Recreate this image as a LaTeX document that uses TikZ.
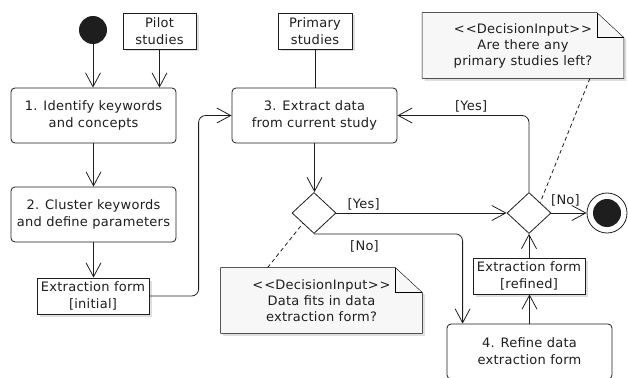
\documentclass[tikz,border=0pt]{standalone}
\usepackage{fontspec}
\setmainfont{DejaVu Sans}[LetterSpace=2]
\usepackage{tikz}
\usetikzlibrary{shapes.geometric, arrows.meta, calc, shadows, backgrounds}
\definecolor{notefill}{RGB}{247,247,247}
\definecolor{inkgray}{RGB}{30,30,30}
\newcommand{\stereo}[1]{<\kern1pt<#1>\kern1pt>}

\begin{document}
\begin{tikzpicture}[x=1pt, y=-1pt, color=inkgray, line width=0.8pt,
  every node/.style={font=\fontsize{13}{17}\selectfont},
  action/.style={rectangle, draw, fill=white, rounded corners=4pt, align=center,
                 minimum width=165pt, minimum height=55pt, inner sep=2pt},
  object/.style={rectangle, draw, fill=white, align=center, inner xsep=3pt, inner ysep=2pt,
                 minimum height=36pt, drop shadow={shadow xshift=2.5pt, shadow yshift=-2.5pt, opacity=0.25}},
  decision/.style={diamond, draw, fill=white, minimum width=44pt, minimum height=41pt, inner sep=0pt},
  notebox/.style={rectangle, align=center, minimum width=201pt, minimum height=65pt, inner sep=0pt,
                  font=\fontsize{13}{16}\selectfont},
  guard/.style={font=\fontsize{13}{14}\selectfont, inner sep=2pt},
  dot/.style={circle, fill=inkgray, minimum size=28pt, inner sep=0pt},
  arr/.style={-{Straight Barb[length=14pt, width=15pt]}},
  link/.style={dash pattern=on 4pt off 3pt},
]
  \useasboundingbox (0,0) rectangle (628,377);

  % nodes
  \node[dot] (start) at (93,30) {};
  \node[object, minimum width=73pt] (pilot) at (159.5,31) {Pilot\\studies};
  \node[action] (identify) at (93.5,115.5) {1. Identify keywords\\and concepts};
  \node[action] (cluster) at (93.5,214.5) {2. Cluster keywords\\and define parameters};
  \node[object, minimum width=112pt] (initial) at (93,296) {Extraction form\\{[initial]}};
  \node[object, minimum width=74pt] (primary) at (315,31) {Primary\\studies};
  \node[action] (extract) at (314.5,115.5) {3. Extract data\\from current study};
  \node[decision] (fits) at (314,213) {};
  \node[decision] (left) at (529,213) {};
  \node[circle, draw, minimum size=40pt, inner sep=0pt] (final) at (607,213) {};
  \node[dot] (finaldot) at (final) {};
  \node[object, minimum width=112pt] (refined) at (529,276) {Extraction form\\{[refined]}};
  \node[action] (refine) at (529.5,351.5) {4. Refine data\\extraction form};
  \node[notebox] (fitsnote) at (321.5,300.5)
    {\stereo{DecisionInput}\\Data fits in data\\extraction form?};
  \node[notebox] (leftnote) at (523,45.5)
    {\stereo{DecisionInput}\\Are there any\\primary studies left?};

  % notes with folded corner
  \begin{scope}[on background layer]
    \foreach \n in {fitsnote, leftnote} {
      \filldraw[fill=notefill, drop shadow={shadow xshift=2.5pt, shadow yshift=-2.5pt, opacity=0.25}]
        (\n.north west) -- ($(\n.north east)+(-27pt,0pt)$) -- ($(\n.north east)+(0pt,-25pt)$)
        -- (\n.south east) -- (\n.south west) -- cycle;
      \draw ($(\n.north east)+(-27pt,0pt)$) |- ($(\n.north east)+(0pt,-25pt)$);
    }
  \end{scope}

  % flows
  \draw[arr] (start) -- (start |- identify.north);
  \draw[arr] (pilot) -- (pilot |- identify.north);
  \draw[arr] (identify) -- (identify |- cluster.north);
  \draw[arr] (cluster.south) -- (cluster.south |- initial.north);
  \draw[arr, rounded corners=7pt] (initial.east) -| ($(extract.west)+(-33pt,0pt)$) -- (extract.west);
  \draw (primary) -- (primary |- extract.north);
  \draw[arr] (extract.south) -- (extract.south |- fits.north);
  \draw[arr] (fits.east) -- node[guard, pos=0.16, above] (fitsyes) {[Yes]} (left.west);
  \draw[arr, rounded corners=7pt] (fits.south) -| node[guard, pos=0.17, below=4pt] (fitsno) {[No]}
    ([xshift=16pt]refine.north west);
  \draw[arr] (refine) -- (refine |- refined.south);
  \draw[arr] (refined) -- (left);
  \draw[arr, rounded corners=7pt] (left.north) |- node[guard, pos=0.72, above=1pt] (leftyes) {[Yes]}
    (extract.east);
  \draw[arr] (left.east) -- node[guard, pos=0.4, above=4pt] (leftno) {[No]} (final);

  % note links
  \draw[link] ([xshift=47pt]fitsnote.north west) -- (fits.south west);
  \draw[link] ([xshift=-34pt]leftnote.south east) -- (left.north east);
\end{tikzpicture}
\end{document}
